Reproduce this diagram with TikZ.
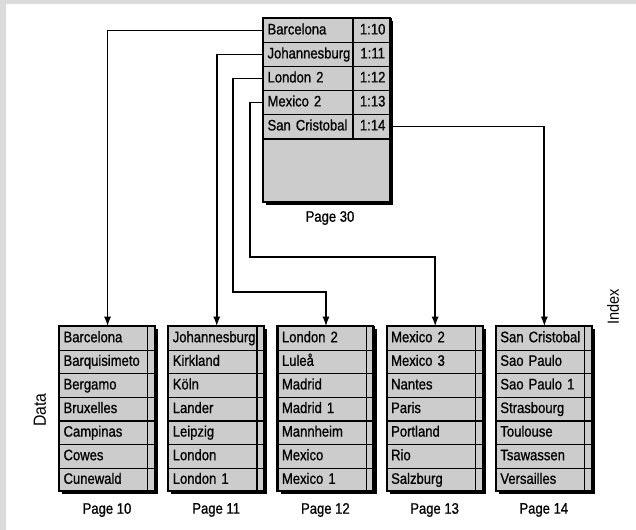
\documentclass[tikz,border=0pt]{standalone}
\usepackage{fontspec}
\setmainfont[FakeStretch=0.86,FakeBold=0.8]{Liberation Sans}
\newfontfamily\labelfont[FakeStretch=0.9]{Liberation Sans}
\usetikzlibrary{positioning}
\usetikzlibrary{calc}
\tikzset{every picture/.style={line width=1.3pt,font=\fontsize{10.8}{13}\selectfont},
cell/.style={draw,line width=0.8pt,fill=black!20,minimum height=0.59cm,text width=2.2cm,inner xsep=0.1cm,inner ysep=0pt,align=left,text height=0.75em,text depth=0.2em},
key/.style={cell,minimum height=0.6cm,text width=2.025cm},
ptr/.style={cell,minimum height=0.6cm,text width=0.75cm,align=center},
shadow/.style={fill=black}}
\begin{document}
\begin{tikzpicture}
\fill[black!14] (0,0) rectangle (15.9,13.25);
\fill[white] (0.15,0) rectangle (15.9,13.15);
\useasboundingbox (0,0) rectangle (15.9,13.25);
% index page
\fill[shadow] (6.655,12.72) rectangle (9.83,8.12);
\draw[fill=black!20,line width=1.4pt] (6.575,12.8) rectangle (9.75,8.2);
\foreach \k/\r [count=\i] in {Barcelona/1:10,Johannesburg/1:11,London 2/1:12,Mexico 2/1:13,San Cristobal/1:14}
{
\node[key,anchor=north west] (k\i) at (6.575,{13.4-0.6*\i}) {\k};
\node[ptr,right=0pt of k\i] (r\i) {\r};
}
\draw[line width=1.9pt] (k5.south west) -- (r5.south east);
\draw[line width=1.4pt] (6.575,12.8) rectangle (9.75,8.2);
\node (page30) at (8.25,7.8) {Page 30};
% data pages
\foreach \p/\x/\names in {10/1.475/{Barcelona,Barquisimeto,Bergamo,Bruxelles,Campinas,Cowes,Cunewald},
11/4.205/{Johannesburg,Kirkland,Köln,Lander,Leipzig,London,London 1},
12/6.935/{London 2,Luleå,Madrid,Madrid 1,Mannheim,Mexico,Mexico 1},
13/9.665/{Mexico 2,Mexico 3,Nantes,Paris,Portland,Rio,Salzburg},
14/12.395/{San Cristobal,Sao Paulo,Sao Paulo 1,Strasbourg,Toulouse,Tsawassen,Versailles}}
{
\fill[shadow] (\x+0.08,5.02) rectangle ++(2.4,-4.13);
\foreach \n [count=\j] in \names
\node[cell,anchor=north west] (d\p-\j) at (\x,{5.69-0.59*\j}) {\n};
\draw[line width=0.8pt] (\x+2.22,5.1) -- ++(0,-4.13);
\draw[line width=1.4pt] (\x,5.1) rectangle ++(2.4,-4.13);
\node (page\p) at (\x+1.2,0.5) {Page \p};
}
\node[rotate=90,font=\labelfont\fontsize{12.5}{14}\selectfont] (datalbl) at (1.0,3.0) {Data};
\node[rotate=90,font=\labelfont\fontsize{11.5}{13}\selectfont] (indexlbl) at (15.325,5.575) {Index};
% pointers
\coordinate (bend12) at (5.825,5.95);
\coordinate (bend13) at (6.25,6.825);
\draw[-latex] (k1.west) -| (d10-1.north);
\draw[-latex] (k2.west) -| (d11-1.north);
\draw[-latex] (k3.west) -| (bend12) -| (d12-1.north);
\draw[-latex] (k4.west) -| (bend13) -| (d13-1.north);
\draw[-latex] (r5.east) -| (d14-1.north);
\end{tikzpicture}
\end{document}
